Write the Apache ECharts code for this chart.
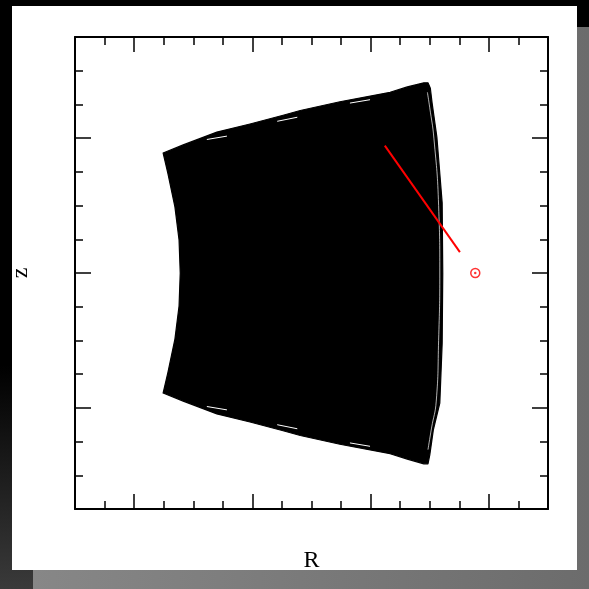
<!DOCTYPE html>
<html>
<head>
<meta charset="utf-8">
<script src="https://cdn.jsdelivr.net/npm/echarts@6/dist/echarts.min.js"></script>
<style>
  html, body { margin: 0; padding: 0; width: 589px; height: 589px; overflow: hidden; }
  #bg { position: absolute; left: 0; top: 0; width: 589px; height: 589px;
        background: linear-gradient(to bottom, #000 0%, #000 62%, #3a3a3a 100%); }
  #shadow { position: absolute; left: 33px; top: 27px; width: 556px; height: 562px;
        background: linear-gradient(to right, #878787, #6c6c6c); }
  #panel { position: absolute; left: 12px; top: 6px; width: 565px; height: 564px; background: #fff; }
  #chart { position: absolute; left: 0; top: 0; width: 589px; height: 589px; }
</style>
</head>
<body>
<div id="bg"></div>
<div id="shadow"></div>
<div id="panel"></div>
<div id="chart"></div>
<script>
// Axis ranges and ticks
const rRange = [5, 13];
const zRange = [-3.5, 3.5];
const majorR = [6, 8, 10, 12];
const majorZ = [-2, 0, 2];
const minorStep = 0.5;

// Outline of the region swept by the orbit (R, z), clockwise from top-left corner
const orbitR = [6.49, 6.83, 7.40, 7.96, 8.52, 8.81, 9.48, 10.33, 10.62, 10.90, 10.97, 11.01,
                11.04, 11.12, 11.21, 11.22, 11.21, 11.17, 11.06, 11.00, 10.97, 10.90,
                10.62, 10.33, 9.48, 8.81, 8.52, 7.96, 7.40, 6.83, 6.49,
                6.57, 6.69, 6.76, 6.78, 6.76, 6.69, 6.57];
const orbitZ = [1.78, 1.90, 2.09, 2.21, 2.34, 2.41, 2.54, 2.68, 2.76, 2.82, 2.82, 2.74,
                2.52, 2.02, 1.04, 0.00, -1.04, -1.93, -2.33, -2.70, -2.83, -2.83,
                -2.76, -2.68, -2.54, -2.41, -2.34, -2.21, -2.09, -1.90, -1.78,
                -1.48, -0.98, -0.49, 0.00, 0.49, 0.98, 1.48];

// Thin gaps between orbit strands near the edges
const gapR = [10.96, 11.00, 11.07, 11.15, 11.17, 11.15, 11.11, 11.03, 10.97];
const gapZ = [2.68, 2.45, 2.00, 1.00, 0.00, -1.00, -1.90, -2.30, -2.62];
const sliverR1 = [7.23, 8.42, 9.65, 7.23, 8.42, 9.65];
const sliverZ1 = [1.98, 2.25, 2.52, -1.98, -2.25, -2.52];
const sliverR2 = [7.57, 8.76, 9.99, 7.57, 8.76, 9.99];
const sliverZ2 = [2.03, 2.31, 2.57, -2.03, -2.31, -2.57];

// Red segment and marker
const redLineR = [10.24, 11.51];
const redLineZ = [1.89, 0.31];
const markerR = [11.77];
const markerZ = [0.0];

const minorR = [], minorZ = [];
for (let v = rRange[0]; v <= rRange[1] + 1e-9; v += minorStep) minorR.push(+v.toFixed(3));
for (let v = zRange[0]; v <= zRange[1] + 1e-9; v += minorStep) minorZ.push(+v.toFixed(3));

const chart = echarts.init(document.getElementById('chart'), null, { renderer: 'canvas' });
const nameFont = { fontFamily: 'Liberation Serif', fontSize: 24, color: '#000' };

function axisX(pos, custom, len, showLine, name) {
  return {
    type: 'value', position: pos, min: rRange[0], max: rRange[1],
    name: name || '', nameLocation: 'middle', nameGap: 40, nameTextStyle: nameFont,
    axisLine: { show: showLine, onZero: false, lineStyle: { color: '#000', width: 2 } },
    axisTick: { show: true, inside: true, length: len, customValues: custom, lineStyle: { color: '#000', width: 1.5 } },
    axisLabel: { show: false, customValues: custom },
    splitLine: { show: false }
  };
}
function axisY(pos, custom, len, showLine, name) {
  return {
    type: 'value', position: pos, min: zRange[0], max: zRange[1],
    name: name || '', nameLocation: 'middle', nameGap: 42, nameTextStyle: nameFont,
    axisLine: { show: showLine, onZero: false, lineStyle: { color: '#000', width: 2 } },
    axisTick: { show: true, inside: true, length: len, customValues: custom, lineStyle: { color: '#000', width: 1.5 } },
    axisLabel: { show: false, customValues: custom },
    splitLine: { show: false }
  };
}

const option = {
  backgroundColor: 'transparent',
  animation: false,
  grid: { left: 75, top: 37, width: 473, height: 472, containLabel: false },
  xAxis: [
    axisX('bottom', majorR, 15, true, 'R'),
    axisX('top', majorR, 15, true),
    axisX('bottom', minorR, 8, false),
    axisX('top', minorR, 8, false)
  ],
  yAxis: [
    axisY('left', majorZ, 16, true, 'z'),
    axisY('right', majorZ, 16, true),
    axisY('left', minorZ, 8, false),
    axisY('right', minorZ, 8, false)
  ],
  series: [
    {
      type: 'custom', xAxisIndex: 0, yAxisIndex: 0, clip: true,
      data: orbitR.map((r, i) => [r, orbitZ[i]]),
      renderItem: function (params, api) {
        if (params.dataIndex !== 0) return null;
        const pts = orbitR.map((r, i) => api.coord([r, orbitZ[i]]));
        return { type: 'polygon', shape: { points: pts },
                 style: { fill: '#000', stroke: '#000', lineWidth: 1.2, lineJoin: 'round' } };
      }
    },
    {
      type: 'line', xAxisIndex: 0, yAxisIndex: 0, showSymbol: false, smooth: true,
      data: gapR.map((r, i) => [r, gapZ[i]]),
      lineStyle: { color: '#fff', width: 0.7 }, z: 3
    },
    {
      type: 'custom', xAxisIndex: 0, yAxisIndex: 0,
      data: sliverR1.map((r, i) => [r, sliverZ1[i], sliverR2[i], sliverZ2[i]]),
      renderItem: function (params, api) {
        const p1 = api.coord([api.value(0), api.value(1)]);
        const p2 = api.coord([api.value(2), api.value(3)]);
        return { type: 'line', shape: { x1: p1[0], y1: p1[1], x2: p2[0], y2: p2[1] },
                 style: { stroke: '#fff', lineWidth: 1 } };
      }, z: 3
    },
    {
      type: 'line', xAxisIndex: 0, yAxisIndex: 0, showSymbol: false,
      data: redLineR.map((r, i) => [r, redLineZ[i]]),
      lineStyle: { color: '#ff0000', width: 2 }, z: 4
    },
    {
      type: 'scatter', xAxisIndex: 0, yAxisIndex: 0, symbol: 'circle', symbolSize: 9,
      data: markerR.map((r, i) => [r, markerZ[i]]),
      itemStyle: { color: 'rgba(0,0,0,0)', borderColor: '#ff0000', borderWidth: 1.5 }, z: 5
    },
    {
      type: 'scatter', xAxisIndex: 0, yAxisIndex: 0, symbol: 'circle', symbolSize: 2.5,
      data: markerR.map((r, i) => [r, markerZ[i]]),
      itemStyle: { color: '#ff0000' }, z: 5
    }
  ]
};
chart.setOption(option);
</script>
</body>
</html>
